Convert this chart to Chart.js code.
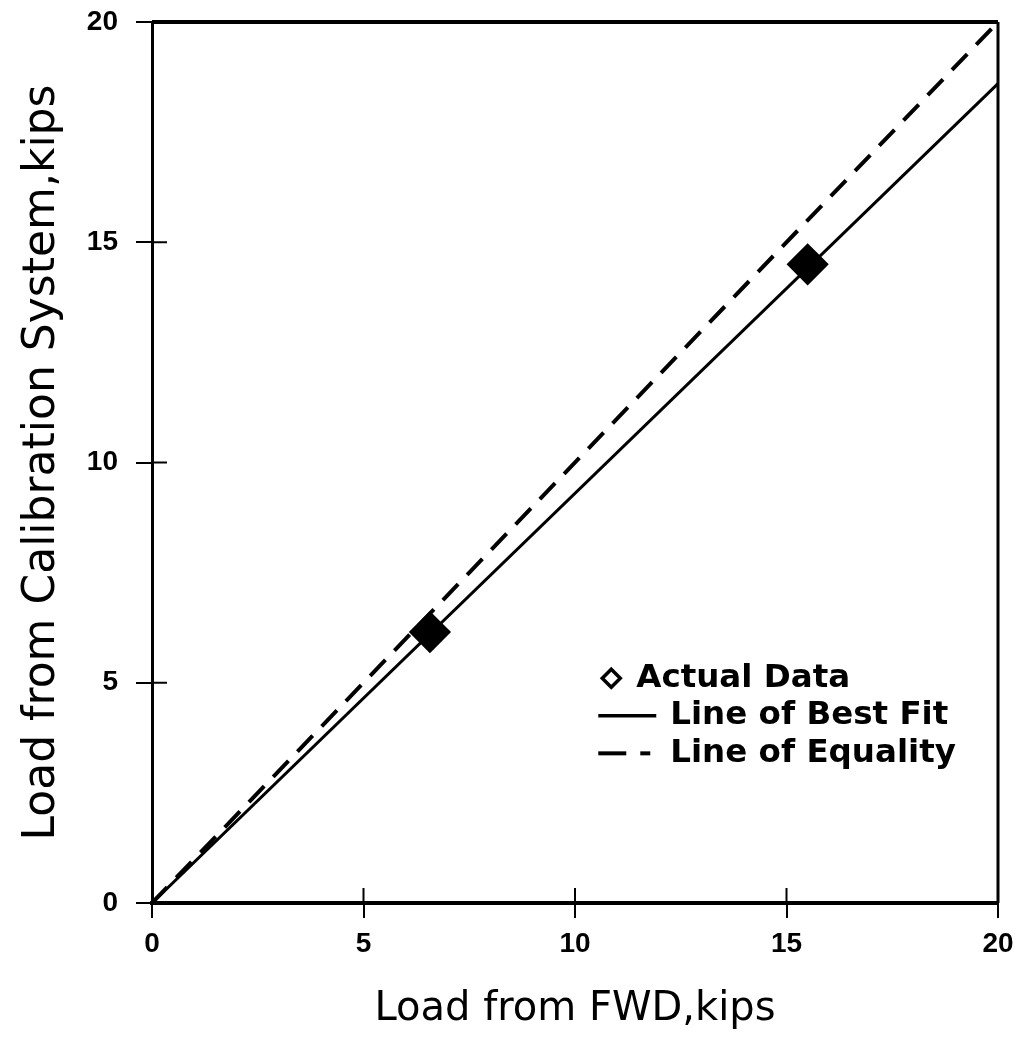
<!DOCTYPE html>
<html>
<head>
<meta charset="utf-8">
<script src="https://cdn.jsdelivr.net/npm/chart.js@4/dist/chart.umd.min.js"></script>
<style>
  html, body { margin: 0; padding: 0; background: #fff; }
  #wrap { width: 1031px; height: 1054px; }
</style>
</head>
<body>
<div id="wrap"><canvas id="chart" width="1031" height="1054"></canvas></div>
<script>
// measured values
const fwdLoad = [6.57, 15.5];
const calibLoad = [6.15, 14.5];
const fitX = [0, 20];
const fitY = [0, 18.6];
const equalityX = [0, 20];
const equalityY = [0, 20];
const tickValues = [0, 5, 10, 15, 20];
const legendLabels = ['Actual Data', 'Line of Best Fit', 'Line of Equality'];

const toPoints = (xs, ys) => xs.map((x, i) => ({ x: x, y: ys[i] }));
const tickFont = { family: '"Liberation Sans Narrow", "Liberation Sans"', size: 28, weight: 'bold' };

// frame + ticks that cross the axis into the plot
const framePlugin = {
  id: 'frame',
  afterDatasetsDraw(chart) {
    const { ctx, chartArea: a, scales } = chart;
    ctx.save();
    ctx.strokeStyle = '#000';
    ctx.lineWidth = 4;
    ctx.beginPath(); ctx.moveTo(a.left, a.top); ctx.lineTo(a.right, a.top); ctx.stroke();
    ctx.lineWidth = 3;
    ctx.beginPath(); ctx.moveTo(a.right, a.top); ctx.lineTo(a.right, a.bottom); ctx.stroke();
    ctx.lineWidth = 2;
    tickValues.forEach(v => {
      const px = scales.x.getPixelForValue(v);
      ctx.beginPath(); ctx.moveTo(px, a.bottom); ctx.lineTo(px, a.bottom - 15); ctx.stroke();
      const py = scales.y.getPixelForValue(v);
      ctx.beginPath(); ctx.moveTo(a.left, py); ctx.lineTo(a.left + 15, py); ctx.stroke();
    });
    ctx.restore();
  }
};

// legend drawn inside plot, anchored in data units
const legendPlugin = {
  id: 'innerLegend',
  afterDraw(chart) {
    const { ctx, scales } = chart;
    const x0 = scales.x.getPixelForValue(10.55);
    let y = scales.y.getPixelForValue(5.1);
    const gap = 37.5;
    ctx.save();
    ctx.fillStyle = '#000';
    ctx.strokeStyle = '#000';
    ctx.font = 'bold 32.5px "DejaVu Sans"';
    ctx.textBaseline = 'middle';

    // diamond
    ctx.lineWidth = 3.5;
    const dx = x0 + 13;
    ctx.beginPath();
    ctx.moveTo(dx, y - 9); ctx.lineTo(dx + 9, y); ctx.lineTo(dx, y + 9); ctx.lineTo(dx - 9, y); ctx.closePath();
    ctx.stroke();
    ctx.fillText(legendLabels[0], x0 + 38, y);

    // solid
    y += gap;
    ctx.lineWidth = 3.5;
    ctx.beginPath(); ctx.moveTo(x0, y); ctx.lineTo(x0 + 58, y); ctx.stroke();
    ctx.fillText(legendLabels[1], x0 + 72, y);

    // dashed
    y += gap;
    ctx.lineWidth = 4;
    ctx.beginPath(); ctx.moveTo(x0, y); ctx.lineTo(x0 + 28, y); ctx.stroke();
    ctx.beginPath(); ctx.moveTo(x0 + 42, y); ctx.lineTo(x0 + 52, y); ctx.stroke();
    ctx.fillText(legendLabels[2], x0 + 72, y);
    ctx.restore();
  }
};

const ctx = document.getElementById('chart').getContext('2d');
new Chart(ctx, {
  type: 'scatter',
  data: {
    datasets: [
      {
        label: 'Line of Equality',
        data: toPoints(equalityX, equalityY),
        showLine: true,
        borderColor: '#000',
        borderWidth: 4,
        borderDash: [22, 13],
        pointRadius: 0
      },
      {
        label: 'Line of Best Fit',
        data: toPoints(fitX, fitY),
        showLine: true,
        borderColor: '#000',
        borderWidth: 3,
        pointRadius: 0
      },
      {
        label: 'Actual Data',
        data: toPoints(fwdLoad, calibLoad),
        pointStyle: 'rectRot',
        pointRadius: 19,
        backgroundColor: '#000',
        borderColor: '#000',
        borderWidth: 3
      }
    ]
  },
  options: {
    responsive: false,
    animation: false,
    layout: { padding: { top: 22, right: 33, left: 0, bottom: 0 } },
    plugins: {
      legend: { display: false },
      tooltip: { enabled: false }
    },
    scales: {
      x: {
        type: 'linear',
        min: 0,
        max: 20,
        afterBuildTicks: s => { s.ticks = tickValues.map(v => ({ value: v })); },
        afterFit: s => { s.height = 151; },
        grid: { drawOnChartArea: false, tickLength: 15, color: '#000', lineWidth: 2 },
        border: { display: true, color: '#000', width: 4 },
        ticks: { color: '#000', font: tickFont, padding: 9, maxRotation: 0 },
        title: {
          display: true,
          text: 'Load from FWD,kips',
          color: '#000',
          font: { family: 'DejaVu Sans', size: 40 },
          padding: { top: 4, bottom: 20 }
        }
      },
      y: {
        type: 'linear',
        min: 0,
        max: 20,
        afterBuildTicks: s => { s.ticks = tickValues.map(v => ({ value: v })); },
        afterFit: s => { s.width = 152; s.paddingTop = 0; s.paddingBottom = 0; },
        grid: { drawOnChartArea: false, tickLength: 16, color: '#000', lineWidth: 2 },
        border: { display: true, color: '#000', width: 3 },
        ticks: { color: '#000', font: tickFont, padding: 18 },
        title: {
          display: true,
          text: 'Load from Calibration System,kips',
          color: '#000',
          font: { family: 'DejaVu Sans', size: 44 },
          padding: { top: 16, bottom: 0 }
        }
      }
    }
  },
  plugins: [framePlugin, legendPlugin]
});
</script>
</body>
</html>
